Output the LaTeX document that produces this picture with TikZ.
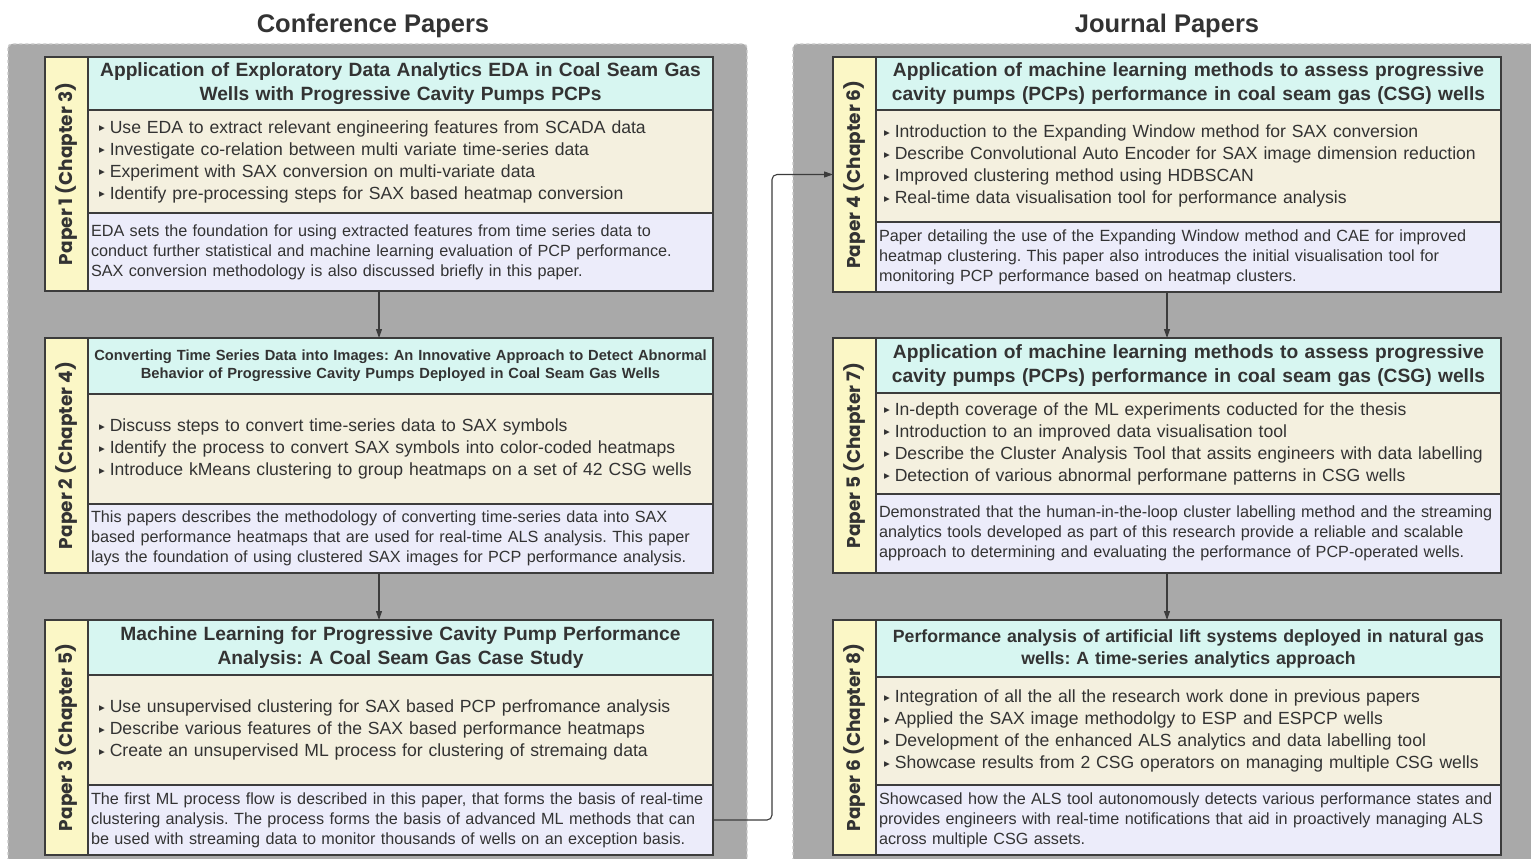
\documentclass[tikz,border=0pt]{standalone}
\usepackage{fontspec}
\setmainfont{Liberation Sans}
\newfontfamily\lblfont{Poppins}
\newfontfamily\symfont{DejaVu Sans}
\usetikzlibrary{positioning,fit,arrows.meta}

\definecolor{grpgray}{HTML}{A9A9A9}
\definecolor{dashgray}{HTML}{C9C9C9}
\definecolor{edge}{HTML}{3C3C3C}
\definecolor{stripyellow}{HTML}{FBF7C6}
\definecolor{titlecyan}{HTML}{D7F6F1}
\definecolor{bulletbeige}{HTML}{F4F0DF}
\definecolor{desclilac}{HTML}{ECECFA}
\definecolor{inkgray}{HTML}{333333}

\newcommand\bul{\raisebox{2.5pt}{\symfont\fontsize{7.5}{8}\selectfont ▶}\hspace{5pt}}
\frenchspacing

\begin{document}
\begin{tikzpicture}[x=1pt,y=-1pt,
  every node/.style={outer sep=0pt, text=inkgray},
  band/.style={draw=edge, line width=1.6pt, minimum width=625pt},
  ttl/.style={band, fill=titlecyan, align=center, text width=613pt, inner xsep=6pt,
    font=\bfseries\fontsize{19.2}{24}\selectfont},
  ttlsmall/.style={ttl, font=\bfseries\fontsize{14.7}{18}\selectfont},
  ttlmid/.style={ttl, font=\bfseries\fontsize{17.7}{22}\selectfont},
  bullets/.style={band, fill=bulletbeige, align=left, text width=603pt, inner xsep=11pt,
    font=\fontsize{17.6}{22}\selectfont},
  desc/.style={band, fill=desclilac, align=left, text width=619pt, inner xsep=3pt,
    font=\fontsize{16.2}{20}\selectfont},
  strip/.style={draw=edge, line width=1.6pt, fill=stripyellow, minimum width=43pt},
  lbl/.style={rotate=90, font=\lblfont\bfseries\fontsize{18.5}{20}\selectfont},
  grp/.style={fill=grpgray, draw=dashgray, dashed, line width=1.4pt, rounded corners=4pt},
  head/.style={font=\bfseries\fontsize{25.5}{28}\selectfont},
  arr/.style={-{Triangle[length=9pt,width=6pt]}, draw=edge, line width=1.1pt}]

\clip (0,0) rectangle (1531,859);
\fill [white] (0,0) rectangle (1531,859);

\draw [grp] (8,44) rectangle (747,880);
\draw [grp] (793,44) rectangle (1545,880);

\node [head] (conf) at (373,26) {Conference Papers};
\node [head] (jour) at (1167,26) {Journal Papers};


\node [ttl, minimum height=53pt, anchor=north west] (t1) at (88,57)
  {Application of Exploratory Data Analytics EDA in Coal Seam Gas\\Wells with Progressive Cavity Pumps PCPs};
\node [bullets, minimum height=103pt, below=0pt of t1] (b1)
  {\bul Use EDA to extract relevant engineering features from SCADA data\\
   \bul Investigate co-relation between multi variate time-series data\\
   \bul Experiment with SAX conversion on multi-variate data\\
   \bul Identify pre-processing steps for SAX based heatmap conversion};
\node [desc, minimum height=78pt, below=0pt of b1] (d1)
  {EDA sets the foundation for using extracted features from time series data to\\
   conduct further statistical and machine learning evaluation of PCP performance.\\
   SAX conversion methodology is also discussed briefly in this paper.};
\node [strip, minimum height=234pt, anchor=north east] (s1) at (t1.north west) {};
\node [lbl] (l1) at (s1) {Paper 1 (Chapter 3)};
\node [fit=(s1)(d1), inner sep=0pt] (P1) {};

\node [ttlsmall, minimum height=56pt, anchor=north west] (t2) at (88,338)
  {Converting Time Series Data into Images: An Innovative Approach to Detect Abnormal\\Behavior of Progressive Cavity Pumps Deployed in Coal Seam Gas Wells};
\node [bullets, minimum height=110pt, below=0pt of t2] (b2)
  {\bul Discuss steps to convert time-series data to SAX symbols\\
   \bul Identify the process to convert SAX symbols into color-coded heatmaps\\
   \bul Introduce kMeans clustering to group heatmaps on a set of 42 CSG wells};
\node [desc, minimum height=69pt, below=0pt of b2] (d2)
  {This papers describes the methodology of converting time-series data into SAX\\
   based performance heatmaps that are used for real-time ALS analysis. This paper\\
   lays the foundation of using clustered SAX images for PCP performance analysis.};
\node [strip, minimum height=235pt, anchor=north east] (s2) at (t2.north west) {};
\node [lbl] (l2) at (s2) {Paper 2 (Chapter 4)};
\node [fit=(s2)(d2), inner sep=0pt] (P2) {};

\node [ttl, minimum height=55pt, anchor=north west] (t3) at (88,620)
  {Machine Learning for Progressive Cavity Pump Performance\\Analysis: A Coal Seam Gas Case Study};
\node [bullets, minimum height=110pt, below=0pt of t3] (b3)
  {\bul Use unsupervised clustering for SAX based PCP perfromance analysis\\
   \bul Describe various features of the SAX based performance heatmaps\\
   \bul Create an unsupervised ML process for clustering of stremaing data};
\node [desc, minimum height=70pt, below=0pt of b3] (d3)
  {The first ML process flow is described in this paper, that forms the basis of real-time\\
   clustering analysis. The process forms the basis of advanced ML methods that can\\
   be used with streaming data to monitor thousands of wells on an exception basis.};
\node [strip, minimum height=235pt, anchor=north east] (s3) at (t3.north west) {};
\node [lbl] (l3) at (s3) {Paper 3 (Chapter 5)};
\node [fit=(s3)(d3), inner sep=0pt] (P3) {};


\node [ttl, minimum height=53pt, anchor=north west] (t4) at (876,57)
  {Application of machine learning methods to assess progressive\\cavity pumps (PCPs) performance in coal seam gas (CSG) wells};
\node [bullets, inner xsep=8pt, text width=609pt, minimum height=112pt, below=0pt of t4] (b4)
  {\bul Introduction to the Expanding Window method for SAX conversion\\
   \bul Describe Convolutional Auto Encoder for SAX image dimension reduction\\
   \bul Improved clustering method using HDBSCAN\\
   \bul Real-time data visualisation tool for performance analysis};
\node [desc, minimum height=70pt, below=0pt of b4] (d4)
  {Paper detailing the use of the Expanding Window method and CAE for improved\\
   heatmap clustering. This paper also introduces the initial visualisation tool for\\
   monitoring PCP performance based on heatmap clusters.};
\node [strip, minimum height=235pt, anchor=north east] (s4) at (t4.north west) {};
\node [lbl] (l4) at (s4) {Paper 4 (Chapter 6)};
\node [fit=(s4)(d4), inner sep=0pt] (P4) {};

\node [ttl, minimum height=55pt, anchor=north west] (t5) at (876,338)
  {Application of machine learning methods to assess progressive\\cavity pumps (PCPs) performance in coal seam gas (CSG) wells};
\node [bullets, inner xsep=8pt, text width=609pt, minimum height=101pt, below=0pt of t5] (b5)
  {\bul In-depth coverage of the ML experiments coducted for the thesis\\
   \bul Introduction to an improved data visualisation tool\\
   \bul Describe the Cluster Analysis Tool that assits engineers with data labelling\\
   \bul Detection of various abnormal performane patterns in CSG wells};
\node [desc, minimum height=79pt, below=0pt of b5] (d5)
  {Demonstrated that the human-in-the-loop cluster labelling method and the streaming\\
   analytics tools developed as part of this research provide a reliable and scalable\\
   approach to determining and evaluating the performance of PCP-operated wells.};
\node [strip, minimum height=235pt, anchor=north east] (s5) at (t5.north west) {};
\node [lbl] (l5) at (s5) {Paper 5 (Chapter 7)};
\node [fit=(s5)(d5), inner sep=0pt] (P5) {};

\node [ttlmid, minimum height=57pt, anchor=north west] (t6) at (876,620)
  {Performance analysis of artificial lift systems deployed in natural gas\\wells: A time-series analytics approach};
\node [bullets, inner xsep=8pt, text width=609pt, minimum height=108pt, below=0pt of t6] (b6)
  {\bul Integration of all the all the research work done in previous papers\\
   \bul Applied the SAX image methodolgy to ESP and ESPCP wells\\
   \bul Development of the enhanced ALS analytics and data labelling tool\\
   \bul Showcase results from 2 CSG operators on managing multiple CSG wells};
\node [desc, minimum height=70pt, below=0pt of b6] (d6)
  {Showcased how the ALS tool autonomously detects various performance states and\\
   provides engineers with real-time notifications that aid in proactively managing ALS\\
   across multiple CSG assets.};
\node [strip, minimum height=235pt, anchor=north east] (s6) at (t6.north west) {};
\node [lbl] (l6) at (s6) {Paper 6 (Chapter 8)};
\node [fit=(s6)(d6), inner sep=0pt] (P6) {};


\draw [arr] (P1) -- (P2);
\draw [arr] (P2) -- (P3);
\draw [arr] (P4) -- (P5);
\draw [arr] (P5) -- (P6);

\coordinate (jog) at (772,174.5);
\draw [arr, rounded corners=5pt] (d3.east) -| (jog) -- (s4.west);

\end{tikzpicture}
\end{document}
